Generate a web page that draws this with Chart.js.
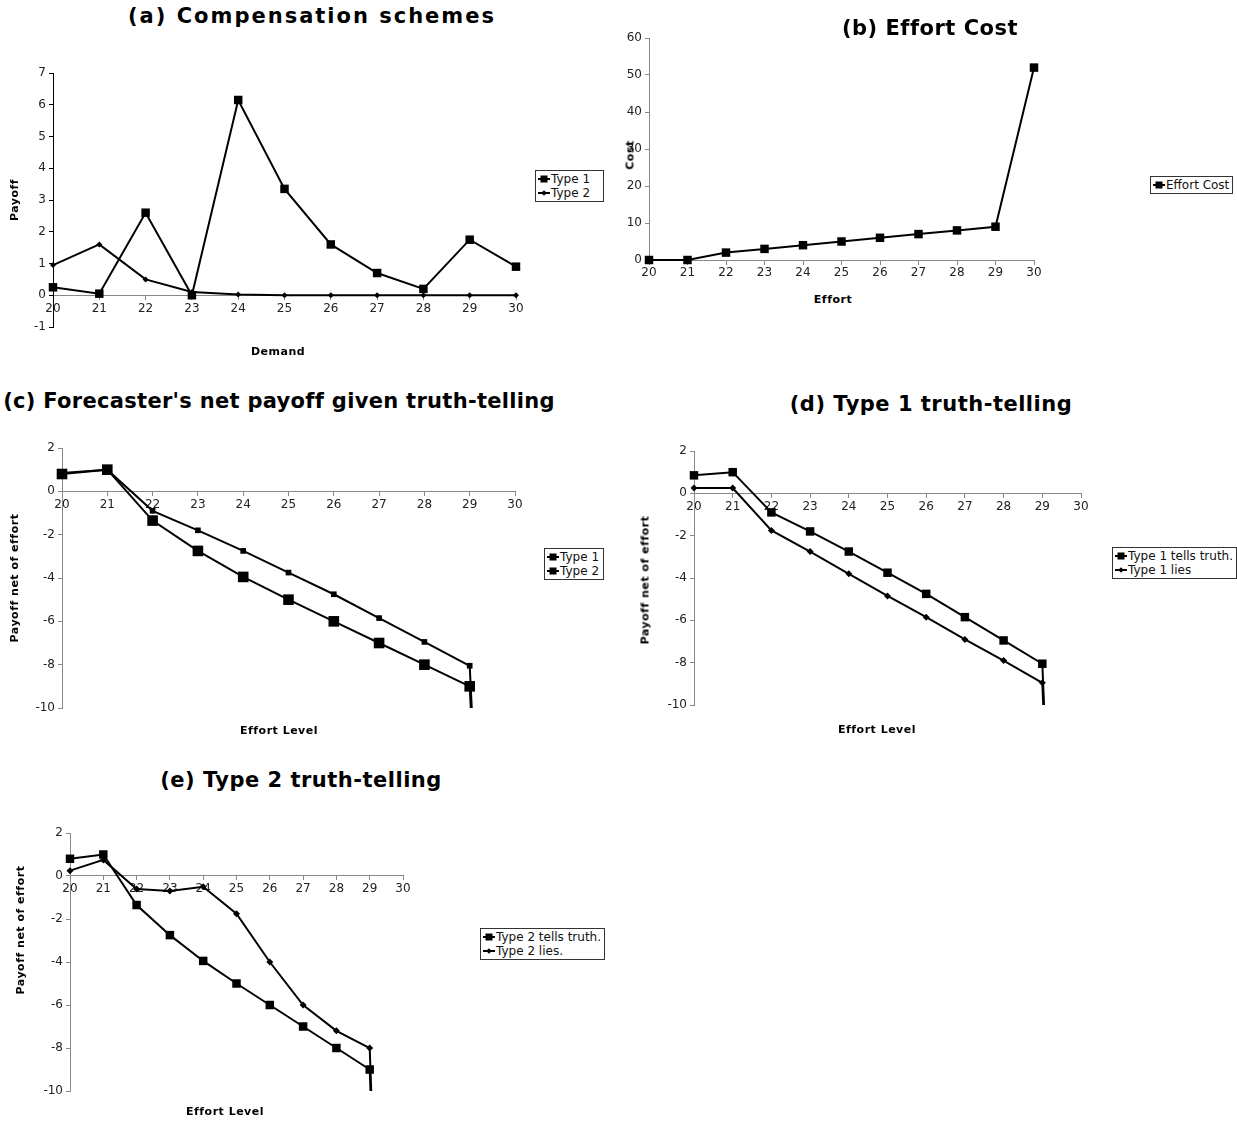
<!DOCTYPE html>
<html>
<head>
<meta charset="utf-8">
<script src="https://cdn.jsdelivr.net/npm/chart.js@4.4.1/dist/chart.umd.min.js"></script>
<style>
  body { margin: 0; background: #fff; font-family: "DejaVu Sans", sans-serif; color: #000; }
  #page { position: relative; width: 1237px; height: 1122px; overflow: hidden; }
  .panel { position: absolute; }
  .title { position: absolute; font-weight: bold; font-size: 21px; letter-spacing: 0.5px; white-space: nowrap; transform: translate(-50%, -50%); }
  .axt { position: absolute; font-weight: bold; font-size: 11px; letter-spacing: 0.5px; white-space: nowrap; transform: translate(-50%, -50%); }
  .axt.v { transform: translate(-50%, -50%) rotate(-90deg); }
  .legend { position: absolute; border: 1px solid #333; background: #fff; font-size: 12px; padding: 1px 3px 1px 2px; color: #111; box-sizing: border-box; }
  .item { display: flex; align-items: center; height: 14px; white-space: nowrap; }
  .sw { position: relative; width: 12px; height: 10px; margin-right: 1px; }
  .sw .ln { position: absolute; left: 0; right: 0; top: 4px; height: 2px; background: #000; }
  .sw .mk { position: absolute; left: 50%; top: 50%; background: #000; }
</style>
</head>
<body>
<div id="page">
  <div class="title" style="left:312px;top:16px;letter-spacing:2px">(a) Compensation schemes</div>
  <div class="title" style="left:930px;top:28px">(b) Effort Cost</div>
  <div class="title" style="left:279px;top:401px;letter-spacing:0.3px">(c) Forecaster's net payoff given truth-telling</div>
  <div class="title" style="left:931px;top:404px">(d) Type 1 truth-telling</div>
  <div class="title" style="left:301px;top:780px">(e) Type 2 truth-telling</div>

  <div class="axt v" style="left:14px;top:200px">Payoff</div>
  <div class="axt" style="left:278px;top:351px">Demand</div>
  <div class="axt v" style="left:630px;top:155px">Cost</div>
  <div class="axt" style="left:833px;top:299px">Effort</div>
  <div class="axt v" style="left:14px;top:578px">Payoff net of effort</div>
  <div class="axt" style="left:279px;top:730px">Effort Level</div>
  <div class="axt v" style="left:645px;top:580px">Payoff net of effort</div>
  <div class="axt" style="left:877px;top:729px">Effort Level</div>
  <div class="axt v" style="left:20px;top:930px">Payoff net of effort</div>
  <div class="axt" style="left:225px;top:1111px">Effort Level</div>
</div>

<script>
// x values (demand in panel a, effort level elsewhere)
const levels = [20, 21, 22, 23, 24, 25, 26, 27, 28, 29, 30];

// (a) compensation schemes
const type1Payoff = [0.25, 0.05, 2.6, 0.0, 6.15, 3.35, 1.6, 0.7, 0.2, 1.75, 0.9];
const type2Payoff = [0.95, 1.6, 0.5, 0.1, 0.02, 0, 0, 0, 0, 0, 0];

// (b) effort cost
const effortCost = [0, 0, 2, 3, 4, 5, 6, 7, 8, 9, 52];

// (c)-(e) payoff net of effort (last value falls far below the axis)
const type1Truth = [0.85, 1.0, -0.9, -1.8, -2.75, -3.75, -4.75, -5.85, -6.95, -8.05, -51.1];
const type2Truth = [0.8, 1.0, -1.35, -2.75, -3.95, -5.0, -6.0, -7.0, -8.0, -9.0, -52];
const type1Lies = [0.25, 0.25, -1.75, -2.75, -3.8, -4.85, -5.85, -6.9, -7.9, -8.95, -51.8];
const type2Lies = [0.25, 0.75, -0.6, -0.7, -0.5, -1.75, -4.0, -6.0, -7.2, -8.0, -51.1];

const PAD = 14, PADB = 28, YW = 36;
const page = document.getElementById("page");

function series(label, values, style, r, clip) {
  return {
    label,
    data: levels.map((x, i) => ({ x, y: values[i] })),
    borderColor: "#000",
    backgroundColor: "#000",
    borderWidth: 2,
    pointStyle: style,
    pointRadius: r,
    pointBorderWidth: 0,
    tension: 0,
    clip: clip
  };
}

const noClip = false;
const clipBottom = { left: false, top: false, right: false, bottom: 0 };

function makePanel(area, yRange, datasets, legendBox, solidY) {
  const [L, T, R, B] = area;
  const div = document.createElement("div");
  div.className = "panel";
  div.style.left = (L - YW - PAD) + "px";
  div.style.top = (T - PAD) + "px";
  const canvas = document.createElement("canvas");
  canvas.width = (R - L) + YW + 2 * PAD;
  canvas.height = (B - T) + PAD + PADB;
  div.appendChild(canvas);
  page.insertBefore(div, page.firstChild);

  const tickFont = { family: "DejaVu Sans", size: 12 };
  const chart = new Chart(canvas.getContext("2d"), {
    type: "line",
    data: { datasets },
    options: {
      responsive: false,
      animation: false,
      layout: { padding: { left: PAD, right: PAD, top: PAD, bottom: PADB } },
      plugins: { legend: { display: false }, tooltip: { enabled: false } },
      scales: {
        x: {
          type: "linear", min: 20, max: 30,
          position: { y: 0 },
          ticks: { stepSize: 1, color: "#222", font: tickFont, padding: 2 },
          grid: { drawOnChartArea: false, tickLength: 4, color: "#888" },
          border: { color: "#888", dash: [2, 2] }
        },
        y: {
          min: yRange[0], max: yRange[1],
          ticks: { stepSize: yRange[2], color: "#222", font: tickFont, padding: 3 },
          grid: { drawOnChartArea: false, tickLength: 4, color: solidY ? "#000" : "#888" },
          border: solidY ? { color: "#000" } : { color: "#888", dash: [2, 2] },
          afterFit: s => { s.width = YW; }
        }
      }
    }
  });

  // legend box built from the dataset labels and marker styles
  const lg = document.createElement("div");
  lg.className = "legend";
  lg.style.left = legendBox[0] + "px";
  lg.style.top = legendBox[1] + "px";
  if (legendBox[2]) lg.style.width = legendBox[2] + "px";
  chart.data.datasets.forEach(ds => {
    const item = document.createElement("div");
    item.className = "item";
    const sw = document.createElement("span");
    sw.className = "sw";
    const ln = document.createElement("span");
    ln.className = "ln";
    const mk = document.createElement("span");
    mk.className = "mk";
    const s = ds.pointStyle === "rectRot" ? 4 : 7;
    mk.style.width = s + "px";
    mk.style.height = s + "px";
    mk.style.transform = "translate(-50%,-50%)" + (ds.pointStyle === "rectRot" ? " rotate(45deg)" : "");
    sw.appendChild(ln);
    sw.appendChild(mk);
    item.appendChild(sw);
    item.appendChild(document.createTextNode(ds.label));
    lg.appendChild(item);
  });
  page.appendChild(lg);
  return chart;
}

makePanel([53, 73, 516, 327], [-1, 7, 1], [
  series("Type 1", type1Payoff, "rect", 6, noClip),
  series("Type 2", type2Payoff, "rectRot", 3, noClip)
], [535, 170, 69], true);

makePanel([649, 38, 1034, 260], [0, 60, 10], [
  series("Effort Cost", effortCost, "rect", 6, noClip)
], [1150, 176], false);

makePanel([62, 448, 515, 708], [-10, 2, 2], [
  series("Type 1", type1Truth, "rect", 4, clipBottom),
  series("Type 2", type2Truth, "rect", 7.5, clipBottom)
], [544, 548, 60], false);

makePanel([694, 451, 1081, 705], [-10, 2, 2], [
  series("Type 1 tells truth.", type1Truth, "rect", 6, clipBottom),
  series("Type 1 lies", type1Lies, "rectRot", 3.5, clipBottom)
], [1112, 547], false);

makePanel([70, 833, 403, 1091], [-10, 2, 2], [
  series("Type 2 tells truth.", type2Truth, "rect", 6, clipBottom),
  series("Type 2 lies.", type2Lies, "rectRot", 3.5, clipBottom)
], [480, 928], false);
</script>
</body>
</html>
